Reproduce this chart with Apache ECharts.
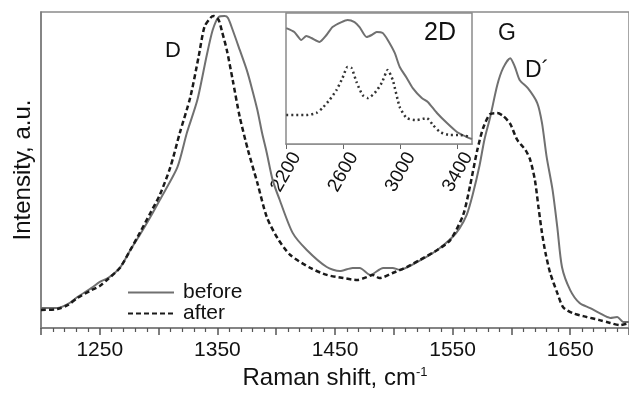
<!DOCTYPE html>
<html><head><meta charset="utf-8">
<script src="https://cdn.jsdelivr.net/npm/echarts@6/dist/echarts.min.js"></script>
<style>html,body{margin:0;padding:0;background:#fff}#c{width:629px;height:394px}</style>
</head><body><div id="c"></div>
<script>
// Main spectrum (Raman shift, cm-1 ; normalized intensity)
const beforeX = [1200,1208,1214,1223,1231,1243,1250,1257,1267,1276,1284,1293,1301,1316,1324,1333,1341,1346,1351,1356,1359,1363,1369,1375,1379,1384,1388,1392,1397,1403,1414,1426,1443,1454,1465,1471,1480,1491,1499,1505,1520,1537,1550,1556,1562,1567,1573,1577,1582,1588,1593,1599,1603,1607,1614,1622,1626,1630,1635,1639,1643,1650,1658,1667,1675,1684,1690,1695,1700];
const beforeY = [0.063,0.063,0.063,0.076,0.098,0.127,0.146,0.158,0.190,0.247,0.294,0.351,0.405,0.509,0.617,0.722,0.864,0.943,0.984,0.987,0.981,0.943,0.880,0.816,0.763,0.690,0.617,0.554,0.468,0.405,0.301,0.247,0.193,0.180,0.190,0.190,0.168,0.190,0.190,0.184,0.209,0.247,0.288,0.316,0.358,0.421,0.516,0.595,0.668,0.769,0.823,0.854,0.826,0.785,0.759,0.712,0.649,0.541,0.437,0.320,0.193,0.120,0.079,0.063,0.047,0.032,0.035,0.019,0.019];
const afterX = [1200,1214,1223,1231,1243,1250,1257,1267,1276,1284,1293,1301,1310,1318,1327,1334,1339,1344,1347,1351,1354,1358,1363,1369,1376,1384,1392,1401,1412,1429,1443,1457,1469,1477,1482,1488,1499,1511,1522,1537,1548,1559,1565,1571,1576,1582,1588,1593,1599,1605,1612,1616,1620,1623,1626,1629,1633,1639,1644,1652,1664,1675,1684,1692,1700];
const afterY = [0.057,0.060,0.073,0.095,0.120,0.133,0.155,0.190,0.247,0.301,0.364,0.421,0.509,0.617,0.731,0.858,0.953,0.981,0.987,0.975,0.937,0.880,0.785,0.668,0.563,0.459,0.351,0.285,0.231,0.190,0.168,0.158,0.152,0.161,0.168,0.158,0.174,0.193,0.215,0.247,0.278,0.358,0.453,0.563,0.633,0.677,0.680,0.671,0.646,0.595,0.563,0.532,0.468,0.383,0.301,0.237,0.174,0.111,0.066,0.047,0.035,0.025,0.016,0.009,0.016];
// Inset: 2D band
const insetBeforeX = [2202,2258,2307,2342,2378,2434,2483,2525,2588,2630,2679,2714,2763,2799,2834,2876,2911,2960,2995,3044,3086,3149,3191,3255,3325,3395,3465,3500];
const insetBeforeY = [0.885,0.855,0.794,0.824,0.809,0.779,0.832,0.893,0.931,0.947,0.931,0.893,0.817,0.832,0.855,0.847,0.794,0.695,0.588,0.504,0.427,0.351,0.321,0.237,0.160,0.092,0.053,0.038];
const insetAfterX = [2202,2272,2342,2413,2455,2504,2553,2595,2630,2658,2693,2735,2771,2820,2869,2911,2946,2995,3044,3114,3184,3227,3276,3346,3416,3486];
const insetAfterY = [0.221,0.221,0.221,0.237,0.275,0.336,0.412,0.504,0.588,0.580,0.473,0.374,0.351,0.389,0.466,0.565,0.489,0.282,0.198,0.183,0.198,0.145,0.092,0.069,0.069,0.053];
const mainLabels = [1250,1350,1450,1550,1650];
const insetTicks = [2200,2600,3000,3400];

const zip = (xs, ys) => xs.map((x, i) => [x, ys[i]]);
const FONT = "'Liberation Sans', Arial, sans-serif";
const chart = echarts.init(document.getElementById('c'), null, {renderer: 'canvas'});
chart.setOption({
  animation: false,
  backgroundColor: '#fff',
  textStyle: {fontFamily: FONT},
  grid: [
    {left: 41, right: 0, top: 12, bottom: 66, outerBoundsMode: 'none', containLabel: false,
     show: true, borderColor: '#8a8a8a', borderWidth: 1.5, backgroundColor: 'transparent'},
    {left: 286, width: 186, top: 13, height: 131, outerBoundsMode: 'none', containLabel: false,
     show: true, borderColor: '#8a8a8a', borderWidth: 1.5, backgroundColor: '#fff', z: 5}
  ],
  xAxis: [
    {gridIndex: 0, type: 'value', min: 1200, max: 1700, interval: 50,
     axisLine: {lineStyle: {color: '#7a7a7a', width: 1.5}},
     axisTick: {show: true, inside: false, length: 7, lineStyle: {color: '#555', width: 1.5}},
     minorTick: {show: true, splitNumber: 5, length: 4, lineStyle: {color: '#555', width: 1.2}},
     splitLine: {show: false},
     axisLabel: {margin: 12, fontSize: 21, color: '#111', fontFamily: FONT,
       formatter: v => mainLabels.indexOf(v) >= 0 ? String(v) : ''},
     name: 'Raman shift, cm{s|-1}', nameLocation: 'middle', nameGap: 37,
     nameTextStyle: {fontSize: 24, color: '#111', fontFamily: FONT,
       rich: {s: {fontSize: 13, color: '#111', verticalAlign: 'top', padding: [0, 0, 10, 0], fontFamily: FONT}}}
    },
    {gridIndex: 1, type: 'value', min: 2200, max: 3500, interval: 200,
     axisLine: {lineStyle: {color: '#8a8a8a', width: 1.5}},
     axisTick: {show: true, inside: false, length: 5, customValues: insetTicks, lineStyle: {color: '#666'}},
     splitLine: {show: false},
     axisLabel: {customValues: insetTicks, rotate: 60, margin: 28, align: 'center', verticalAlign: 'middle',
       fontSize: 19, color: '#111', fontFamily: FONT, formatter: v => String(v)}
    }
  ],
  yAxis: [
    {gridIndex: 0, type: 'value', min: 0, max: 1,
     axisLine: {show: true, lineStyle: {color: '#7a7a7a', width: 1.5}},
     axisTick: {show: false}, axisLabel: {show: false}, splitLine: {show: false},
     name: 'Intensity, a.u.', nameLocation: 'middle', nameGap: 6,
     nameTextStyle: {fontSize: 24, color: '#111', fontFamily: FONT}
    },
    {gridIndex: 1, type: 'value', min: 0, max: 1,
     axisLine: {show: false}, axisTick: {show: false}, axisLabel: {show: false}, splitLine: {show: false}}
  ],
  legend: {
    data: ['before', 'after'], orient: 'vertical', left: 122, top: 277,
    itemWidth: 46, itemHeight: 12, itemGap: 0,
    itemStyle: {opacity: 0},
    textStyle: {fontSize: 21, color: '#111', fontFamily: FONT, padding: [0, 0, 0, 4]}
  },
  series: [
    {name: 'before', type: 'line', xAxisIndex: 0, yAxisIndex: 0, data: zip(beforeX, beforeY),
     showSymbol: false, symbol: 'none', smooth: 0.25, lineStyle: {color: '#707070', width: 2}, itemStyle: {color: '#707070'}},
    {name: 'after', type: 'line', xAxisIndex: 0, yAxisIndex: 0, data: zip(afterX, afterY),
     showSymbol: false, symbol: 'none', smooth: 0.25, lineStyle: {color: '#1a1a1a', width: 2.5, type: [5, 3]}, itemStyle: {color: '#1a1a1a'}},
    {name: 'inset before', type: 'line', xAxisIndex: 1, yAxisIndex: 1, data: zip(insetBeforeX, insetBeforeY),
     showSymbol: false, symbol: 'none', smooth: 0.2, z: 6, lineStyle: {color: '#707070', width: 2}},
    {name: 'inset after', type: 'line', xAxisIndex: 1, yAxisIndex: 1, data: zip(insetAfterX, insetAfterY),
     showSymbol: false, symbol: 'none', smooth: 0.2, z: 6, lineStyle: {color: '#333', width: 2.5, type: [2, 3]}}
  ],
  graphic: [
    {type: 'text', left: 165, top: 40, style: {text: 'D', fontSize: 22, fill: '#111', fontFamily: FONT}},
    {type: 'text', left: 424, top: 21, z: 10, style: {text: '2D', fontSize: 25, fill: '#111', fontFamily: FONT}},
    {type: 'text', left: 498, top: 22, style: {text: 'G', fontSize: 23, fill: '#111', fontFamily: FONT}},
    {type: 'text', left: 525, top: 59, style: {text: 'D\u00B4', fontSize: 23, fill: '#111', fontFamily: FONT}}
  ]
});
</script></body></html>
